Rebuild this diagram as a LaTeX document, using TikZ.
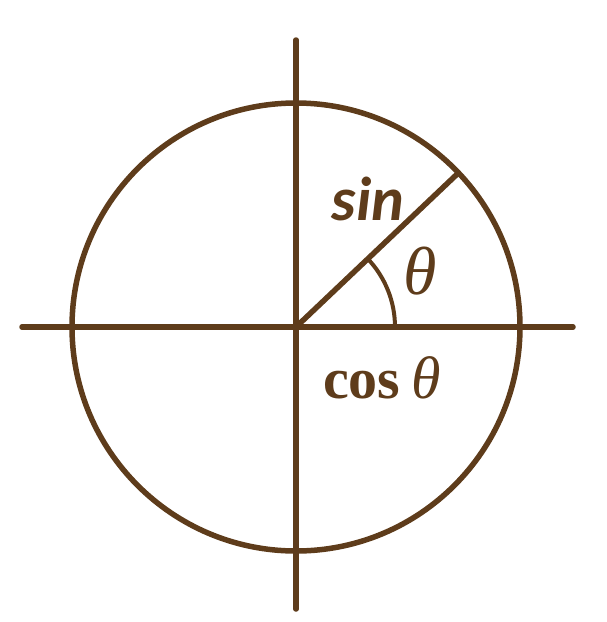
\documentclass[tikz,border=0pt]{standalone}
\usepackage{fontspec}
\usetikzlibrary{calc}
\setmainfont{Carlito}
\newfontfamily\cosfont{Liberation Serif}
\definecolor{brn}{HTML}{5E3C1B}
\begin{document}
\begin{tikzpicture}[x=1pt,y=-1pt,
  axis/.style={draw=brn,line width=5.5pt,line cap=round},
  lbl/.style={text=brn,inner sep=0pt,anchor=base}]
\useasboundingbox (0,0) rectangle (607,622);
\coordinate (O) at (296,327);
\coordinate (L) at (22,327);
\coordinate (R) at (573,327);
\coordinate (T) at (296,40);
\coordinate (B) at (296,609);
\coordinate (P) at ($(O)+(43.5:224pt)$);
\coordinate (A) at ($(O)+(99pt,0pt)$);
\draw[axis] (O) circle[radius=224pt];
\draw[axis] (L) -- (R);
\draw[axis] (T) -- (B);
\draw[axis,line cap=butt] (O) -- (P);
\draw[draw=brn,line width=4pt] (A) arc[start angle=0,end angle=43.5,radius=99pt];
\node[lbl] (s) at (368,220) {\fontsize{62}{62}\selectfont\bfseries\itshape sin};
\node[lbl] (t) at (420,294) {\fontsize{68}{68}\selectfont\cosfont\itshape θ};
\node[lbl,anchor=base west] (c) at (323,398) {\fontsize{58}{58}\selectfont\cosfont\bfseries cos\hspace{11pt}\fontsize{60}{60}\selectfont\itshape\mdseries θ};
\end{tikzpicture}
\end{document}
